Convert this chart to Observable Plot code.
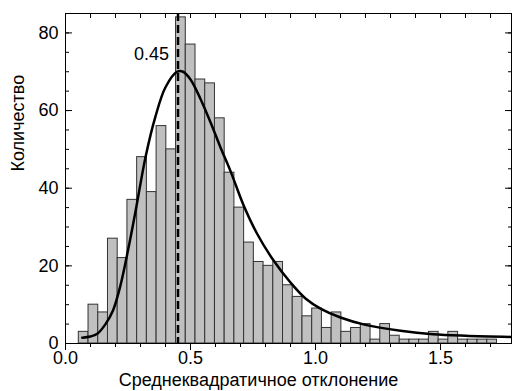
<!DOCTYPE html>
<html><head><meta charset="utf-8">
<script src="https://cdn.jsdelivr.net/npm/d3@7"></script>
<script src="https://cdn.jsdelivr.net/npm/@observablehq/plot@0.6"></script>
<style>body{margin:0;background:#fff}</style>
</head><body><div id="chart"></div>
<script>
const binStart = 0.0532;
const binWidth = 0.0389;
const counts = [3,10,8,27,22,37,48,39,56,50,84,77,68,67,58,44,35,26,21,20,21,15,12,7,9,4,8,3,4,5,1,5,2,1,1,1,3,1,3,1,1,1,1];
const fitX = [0.067,0.10,0.127,0.16,0.19,0.22,0.25,0.28,0.32,0.36,0.40,0.447,0.47,0.50,0.54,0.58,0.62,0.66,0.713,0.767,0.833,0.90,0.96,1.02,1.10,1.20,1.34,1.47,1.60,1.78];
const fitY = [1.5,1.8,2.5,5,8.5,15,24,34,48,58.5,66,70,70,68,63,57,50.5,44.4,35.5,28.2,21.3,15.7,11.6,9,6.7,4.8,3.3,2.4,2.0,1.7];
const meanValue = 0.45;
const meanLabel = "0.45";
const xTicksMajor = [0, 0.5, 1.0, 1.5];
const xTicksMinor = [0,0.1,0.2,0.3,0.4,0.5,0.6,0.7,0.8,0.9,1.0,1.1,1.2,1.3,1.4,1.5,1.6,1.7];
const yTicksMajor = [0, 20, 40, 60, 80];
const yTicksMinor = [0,5,10,15,20,25,30,35,40,45,50,55,60,65,70,75,80,85];
const xLabel = "Среднеквадратичное отклонение";
const yLabel = "Количество";

const bins = counts.map((c, i) => ({x1: binStart + i * binWidth, x2: binStart + (i + 1) * binWidth, count: c}));
const fit = fitX.map((x, i) => ({x, y: fitY[i]}));
const blank = () => "";

const chart = Plot.plot({
  width: 512, height: 391,
  marginLeft: 65, marginRight: 1, marginTop: 13, marginBottom: 48,
  x: {domain: [0, 1.784]},
  y: {domain: [0, 85]},
  style: {fontFamily: "'Liberation Sans', Arial, sans-serif", fontSize: "18px", color: "black", background: "white"},
  marks: [
    Plot.rectY(bins, {x1: "x1", x2: "x2", y: "count", fill: "#c0c0c0", stroke: "#333", strokeWidth: 1}),
    Plot.ruleX([meanValue], {stroke: "black", strokeWidth: 2.5, strokeDasharray: "8,4"}),
    Plot.line(fit, {x: "x", y: "y", stroke: "black", strokeWidth: 2.5, curve: "catmull-rom"}),
    Plot.text([meanLabel], {x: meanValue, y: 74.5, text: d => d, textAnchor: "end", dx: -9, fontSize: 18}),
    Plot.frame({stroke: "black", strokeWidth: 1}),
    Plot.axisX({ticks: xTicksMinor, anchor: "bottom", tickSize: 4, tickFormat: blank, label: null}),
    Plot.axisX({ticks: xTicksMajor, anchor: "bottom", tickSize: 7, tickFormat: blank, label: null}),
    Plot.axisX({ticks: xTicksMajor, anchor: "bottom", tickSize: 0, tickPadding: 8, tickFormat: d3.format(".1f"), label: null, fontSize: 18}),
    Plot.axisX({ticks: xTicksMinor, anchor: "top", tickSize: -4, tickFormat: blank, label: null}),
    Plot.axisY({ticks: yTicksMinor, anchor: "left", tickSize: -4, tickFormat: blank, label: null}),
    Plot.axisY({ticks: yTicksMajor, anchor: "left", tickSize: -7, tickFormat: blank, label: null}),
    Plot.axisY({ticks: yTicksMajor, anchor: "left", tickSize: 0, tickPadding: 7, label: null, fontSize: 18}),
    Plot.axisY({ticks: yTicksMinor, anchor: "right", tickSize: -4, tickFormat: blank, label: null}),
    Plot.axisY({ticks: yTicksMajor, anchor: "right", tickSize: -7, tickFormat: blank, label: null}),
    Plot.text([xLabel], {frameAnchor: "bottom", text: d => d, dx: -30, dy: 37, lineAnchor: "middle", fontSize: 18}),
    Plot.text([yLabel], {frameAnchor: "left", text: d => d, rotate: -90, dx: -47, dy: -7, lineAnchor: "middle", fontSize: 18})
  ]
});
document.getElementById("chart").appendChild(chart);
</script>
</body></html>
